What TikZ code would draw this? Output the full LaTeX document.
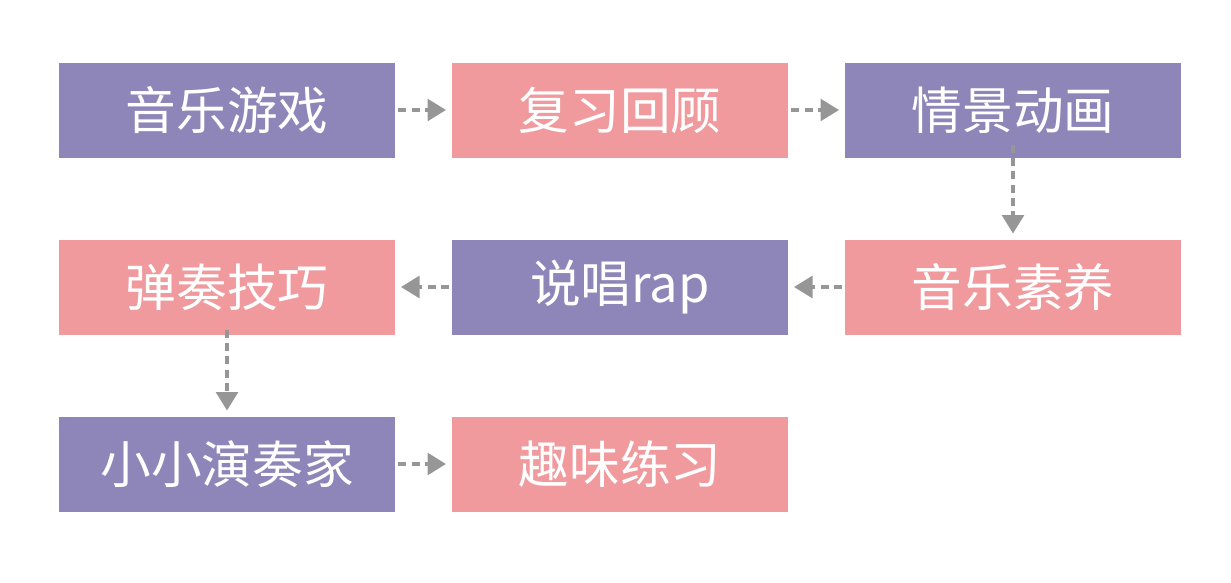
\documentclass[tikz,border=0pt]{standalone}
\usepackage{fontspec}
\setmainfont{Noto Sans CJK SC}
\usetikzlibrary{arrows.meta}
\definecolor{lilac}{RGB}{142,133,184}
\definecolor{rose}{RGB}{240,154,158}
\definecolor{arrowgray}{RGB}{150,150,150}
\tikzset{every picture/.style={line width=0.75pt}}
\tikzset{
  stepbox/.style={minimum width=252pt,minimum height=71.25pt,inner sep=0pt,text=white,font=\fontsize{38}{40}\selectfont},
  purplebox/.style={stepbox,fill=lilac},
  pinkbox/.style={stepbox,fill=rose},
  flow/.style={draw=arrowgray,line width=3.5pt,dash pattern=on 6pt off 4pt,-{Triangle[length=14pt,width=16pt]},shorten <=2pt,shorten >=4pt}
}
\begin{document}
\begin{tikzpicture}[x=0.75pt,y=0.75pt,yscale=-1,xscale=1]
\useasboundingbox (0,0) rectangle (1231,582);

% row 1
\node [purplebox] (game) at (227,110) {音乐游戏};
\node [pinkbox] (review) at (620,110) {复习回顾};
\node [purplebox] (anim) at (1013,110) {情景动画};
% row 2
\node [pinkbox] (skill) at (227,287) {弹奏技巧};
\node [purplebox] (rap) at (620,287) {说唱rap};
\node [pinkbox] (literacy) at (1013,287) {音乐素养};
% row 3
\node [purplebox] (player) at (227,464) {小小演奏家};
\node [pinkbox] (practice) at (620,464) {趣味练习};

% connectors
\draw [flow] (game) -- (review);
\draw [flow] (review) -- (anim);
\draw [flow] ([yshift=-12pt]anim.south) -- (literacy);
\draw [flow] (literacy) -- (rap);
\draw [flow] (rap) -- (skill);
\draw [flow] ([yshift=-6pt]skill.south) -- (player);
\draw [flow] (player) -- (practice);

\end{tikzpicture}
\end{document}
